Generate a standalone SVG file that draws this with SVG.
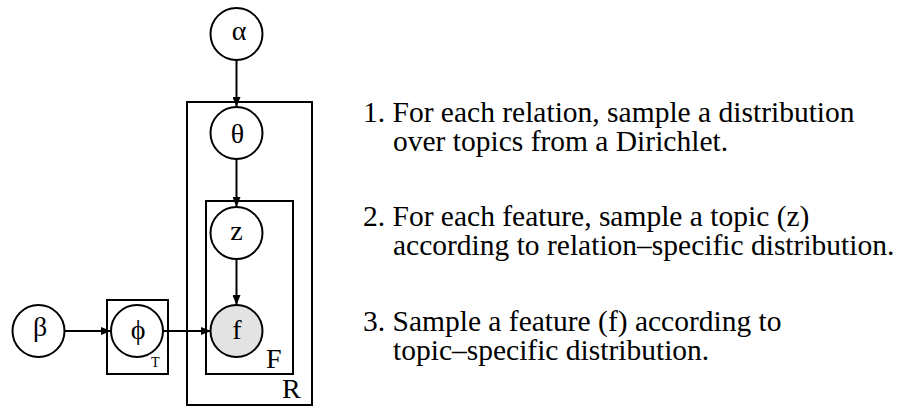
<svg xmlns="http://www.w3.org/2000/svg" width="901" height="410" viewBox="0 0 901 410">
<style>
.n{fill:#fff;stroke:#000;stroke-width:2}
.obs{fill:#e3e3e3;stroke:#000;stroke-width:2}
.plate{fill:none;stroke:#000;stroke-width:2}
.e{stroke:#000;stroke-width:2;fill:none;marker-end:url(#ah)}
.lbl{font-family:"Liberation Serif","Times New Roman",serif;font-size:28px;text-anchor:middle;fill:#000}
.pl{font-family:"Liberation Serif","Times New Roman",serif;font-size:28px;fill:#000}
.txt{font-family:"Liberation Serif","Times New Roman",serif;font-size:29.5px;fill:#000}
</style>
<defs>
<marker id="ah" markerWidth="10" markerHeight="8" refX="10" refY="4" orient="auto" markerUnits="userSpaceOnUse">
<path d="M0,0 L10,4 L0,8 z" fill="#000"/>
</marker>
</defs>
<g id="plate-R"><rect class="plate" x="187" y="102" width="125" height="303"/><text class="pl" x="282" y="398">R</text></g>
<g id="plate-F"><rect class="plate" x="206" y="201" width="87" height="173"/><text class="pl" x="266" y="368">F</text></g>
<g id="plate-T"><rect class="plate" x="107" y="300" width="61" height="74"/><text class="pl" x="151" y="367" style="font-size:14px">T</text></g>
<g id="edges">
<line class="e" x1="236.5" y1="60" x2="236.5" y2="107"/>
<line class="e" x1="236.5" y1="159" x2="236.5" y2="207"/>
<line class="e" x1="236.5" y1="259" x2="236.5" y2="305"/>
<line class="e" x1="64" y1="331" x2="111" y2="331"/>
<line class="e" x1="162" y1="331" x2="211" y2="331"/>
</g>
<g id="alpha"><circle class="n" cx="236.5" cy="34" r="26"/><text class="lbl" x="239" y="40">α</text></g>
<g id="theta"><circle class="n" cx="236.5" cy="133" r="26"/><text class="lbl" x="237.5" y="142.5">θ</text></g>
<g id="z"><circle class="n" cx="236.5" cy="233" r="26"/><text class="lbl" x="236.5" y="239.5">z</text></g>
<g id="f"><circle class="obs" cx="236.5" cy="331" r="26"/><text class="lbl" x="237" y="339">f</text></g>
<g id="beta"><circle class="n" cx="38.5" cy="331" r="26"/><text class="lbl" x="40" y="336">β</text></g>
<g id="phi"><circle class="n" cx="137" cy="331" r="26"/><text class="lbl" x="138" y="339">ϕ</text></g>
<g id="steps">
<text class="txt" x="363" y="122">1. For each relation, sample a distribution</text>
<text class="txt" x="393" y="151">over topics from a Dirichlet.</text>
<text class="txt" x="363" y="226">2. For each feature, sample a topic (z)</text>
<text class="txt" x="393" y="255">according to relation–specific distribution.</text>
<text class="txt" x="363" y="331">3. Sample a feature (f) according to</text>
<text class="txt" x="393" y="360">topic–specific distribution.</text>
</g>
</svg>
